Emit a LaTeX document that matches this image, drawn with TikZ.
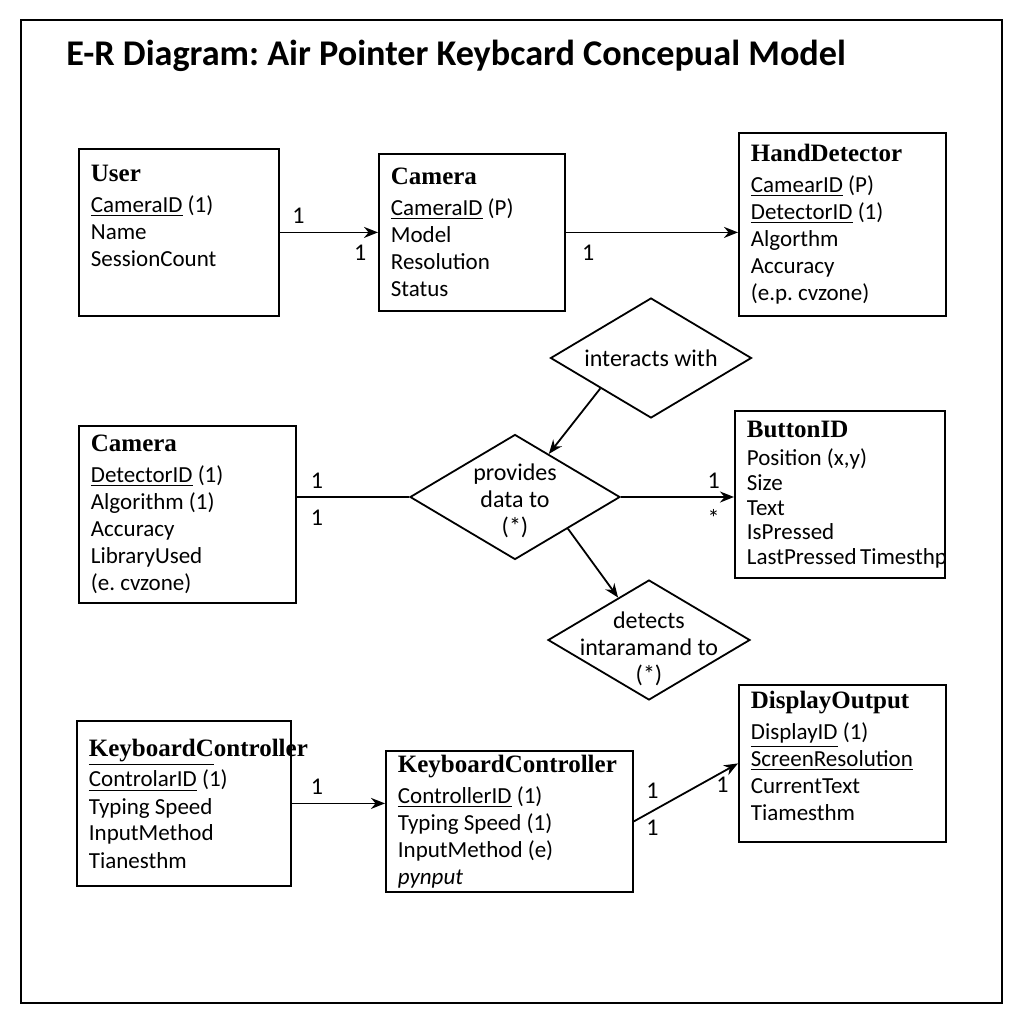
\documentclass[tikz,border=0pt]{standalone}
\usepackage{fontspec}
\setmainfont{Carlito}
\newfontfamily\headfont{Liberation Serif}
\usetikzlibrary{shapes.geometric, arrows.meta}
\frenchspacing

\tikzset{
  entity/.style={draw, line width=0.9pt, anchor=north west, align=flush left, inner xsep=6pt, inner ysep=2pt, font=\fontsize{11.5}{13.5}\selectfont},
  relation/.style={draw, diamond, line width=0.9pt, inner sep=0pt},
  reltext/.style={align=flush center, inner sep=0pt, font=\fontsize{12}{13.5}\selectfont},
  card/.style={inner sep=1pt, font=\fontsize{12}{14}\selectfont},
  link/.style={line width=0.9pt, -{Stealth[length=7pt, width=5.5pt]}},
}
\newcommand{\enthead}[1]{{\headfont\bfseries\fontsize{12.5}{14}\selectfont #1}\\[2pt]}

\begin{document}
\begin{tikzpicture}[x=0.5pt, y=-0.5pt]
  \useasboundingbox (0,0) rectangle (1024,1024);
  \draw[line width=1pt] (21,20) rectangle (1002,1003);

  % Title
  \node[anchor=base west, inner sep=0pt, font=\bfseries\fontsize{18.1}{20}\selectfont] (title) at (66,65) {E-R Diagram: Air Pointer Keybcard Concepual Model};

  % Top row
  \node[entity, text width=88pt, minimum height=83.5pt] (user) at (78,148) {\enthead{User}\underline{CameraID} (1)\\Name\\SessionCount\\[3pt]\mbox{}};
  \node[entity, text width=81pt, minimum height=78.5pt] (cam1) at (378,153) {\enthead{Camera}\underline{CameraID} (P)\\Model\\Resolution\\Status};
  \node[entity, text width=91.5pt, minimum height=91.5pt] (hand) at (738,132) {\enthead{HandDetector}\underline{CamearID} (P)\\\underline{DetectorID} (1)\\Algorthm\\Accuracy\\(e.p. cvzone)};

  % Middle row
  \node[entity, text width=96.5pt, minimum height=88.5pt] (cam2) at (78,425) {\enthead{Camera}\underline{DetectorID} (1)\\Algorithm (1)\\Accuracy\\LibraryUsed\\(e. cvzone)};
  \node[entity, text width=93pt, minimum height=83.5pt, font=\fontsize{11.5}{12.3}\selectfont] (button) at (734,410) {\enthead{ButtonID}Position (x,y)\\Size\\Text\\IsPressed\\LastPressed~Timesthp};

  % Relations
  \node[relation, minimum width=100.5pt, minimum height=60pt] (interact) at (651,358) {};
  \node[reltext] (interact-txt) at (interact) {interacts with};
  \node[relation, minimum width=105pt, minimum height=62.5pt] (provides) at (515,497) {};
  \node[reltext] (provides-txt) at ([yshift=-2pt]provides) {provides\\data to\\(*)};
  \node[relation, minimum width=101pt, minimum height=60pt] (detects) at (649,640) {};
  \node[reltext] (detects-txt) at ([yshift=-4.5pt]detects) {detects\\intaramand to\\(*)};

  % Bottom row
  \node[entity, text width=95pt, minimum height=82.5pt] (kc1) at (76,720) {\enthead{\underline{KeyboardC}ontroller}\underline{ControlarID} (1)\\Typing Speed\\InputMethod\\Tianesthm};
  \node[entity, text width=111.5pt, minimum height=70pt] (kc2) at (385,750) {\enthead{KeyboardController}\underline{ControllerID} (1)\\Typing Speed (1)\\InputMethod (e)\\\textit{pynput}};
  \node[entity, text width=91.5pt, minimum height=78.5pt] (display) at (738,684) {\enthead{DisplayOutput}\underline{DisplayID} (1)\\\underline{ScreenResolution}\\CurrentText\\Tiamesthm\\[-6pt]\mbox{}};

  % Connectors
  \draw[link] (user) -- (cam1)
    node[card, pos=.19, above=3pt] (c1) {1}
    node[card, pos=.82, below=5pt] (c2) {1};
  \draw[link] (cam1.east) -- (cam1.east -| hand.west)
    node[card, pos=.13, below=5pt] (c3) {1};
  \draw[link] (interact.south west) -- (provides);
  \draw[line width=0.9pt] (cam2.east |- provides.west) -- (provides.west)
    node[card, pos=.18, above=3pt] (c4) {1}
    node[card, pos=.18, below=5pt] (c5) {1};
  \draw[link] (provides.east) -- (provides.east -| button.west)
    node[card, pos=.82, above=3pt] (c6) {1}
    node[card, pos=.82, below=5pt] (c7) {*};
  \draw[link] (provides.south east) -- (detects);
  \draw[link] (kc1.east) -- (kc1.east -| kc2.west)
    node[card, pos=.27, above=3pt] (c8) {1};
  \draw[link] (kc2.east) -- (display.west)
    node[card, pos=.18, above=5pt] (c9) {1}
    node[card, pos=.18, below=3pt] (c10) {1}
    node[card, pos=.85, below=1pt] (c11) {1};
\end{tikzpicture}
\end{document}
